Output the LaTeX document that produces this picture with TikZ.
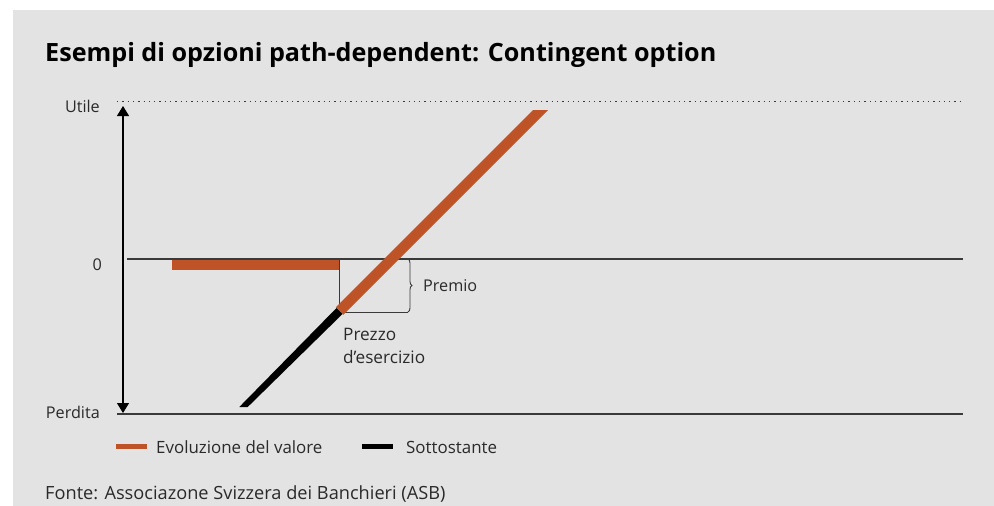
\documentclass[tikz,border=0pt]{standalone}
\usepackage{fontspec}
\setmainfont{Open Sans}
\usetikzlibrary{arrows.meta,decorations.pathreplacing}
\definecolor{bg}{HTML}{E3E3E3}
\definecolor{org}{HTML}{BF5328}
\definecolor{ax}{HTML}{3A3A3A}
\definecolor{txt}{HTML}{2A2A2A}
\begin{document}
\begin{tikzpicture}[x=1pt,y=-1pt,
  lbl/.style={font=\fontsize{16.2}{19}\selectfont, text=txt, inner sep=0pt, anchor=base west},
  lblr/.style={lbl, anchor=base east},
  axline/.style={draw=ax, line width=1.6pt},
  thin/.style={draw=ax, line width=0.9pt}]
\useasboundingbox (0,0) rectangle (994,506);
\fill[white] (0,0) rectangle (994,506);
\fill[bg] (13,10) rectangle (994,506);
% title
\node[lbl, font=\fontsize{25.15}{30}\selectfont\bfseries, text=black] (title) at (45,61) {Esempi di opzioni path-dependent: Contingent option};
% coordinates
\coordinate (atop) at (123,106);
\coordinate (abot) at (123,413);
\coordinate (z0) at (127,259);
\coordinate (z1) at (963,259);
\coordinate (b0) at (117,414);
\coordinate (b1) at (963,414);
\coordinate (d0) at (117,101.5);
\coordinate (d1) at (960,101.5);
\coordinate (K) at (339.5,311);
% dotted top line
\draw[ax, line width=1.2pt, dash pattern=on 1.3pt off 4pt] (d0) -- (d1);
% axes
\draw[axline] (z0) -- (z1);
\draw[axline] (b0) -- (b1);
\draw[black, line width=1.2pt, {Triangle[length=10pt,width=12pt]}-{Triangle[length=10pt,width=12pt]}] (atop) -- (abot);
% box and brace
\draw[thin] (339,259) -- (339,312) -- (408,312);
\draw[thin, decorate, decoration={brace, amplitude=4pt}] (408,259) -- (408,312);
% black underlying line
\fill[black] (336.5,308) -- (342.5,314) -- (243.5+4.2,407) -- (243.5-4.2,407) -- cycle;
% orange horizontal
\fill[org] (172,259.5) rectangle (339,270);
% orange diagonal
\fill[org] (339.5-3.75,311-3.75) -- (339.5+3.75,311+3.75) -- (540.5+7.5,110) -- (540.5-7.5,110) -- cycle;
% labels
\node[lblr] (utile) at (100,112) {Utile};
\node[lblr] (zero) at (102,270) {0};
\node[lblr] (perdita) at (100,418) {Perdita};
\node[lbl] (premio) at (423,291.5) {Premio};
\node[lbl, font=\fontsize{17.2}{20}\selectfont] (prezzo) at (343,340) {Prezzo};
\node[lbl, font=\fontsize{17.2}{20}\selectfont] (eserc) at (343,363) {d’esercizio};
% legend
\draw[org, line width=4.5pt] (116,446.5) -- (147,446.5);
\node[lbl, font=\fontsize{16.9}{20}\selectfont] (leg1) at (156,453) {Evoluzione del valore};
\draw[black, line width=5pt] (362,446.5) -- (393,446.5);
\node[lbl, font=\fontsize{16.9}{20}\selectfont] (leg2) at (406,453) {Sottostante};
% source
\node[lbl, font=\fontsize{18.2}{22}\selectfont] (fonte) at (45,499.5) {Fonte: Associazone Svizzera dei Banchieri (ASB)};
\end{tikzpicture}
\end{document}
